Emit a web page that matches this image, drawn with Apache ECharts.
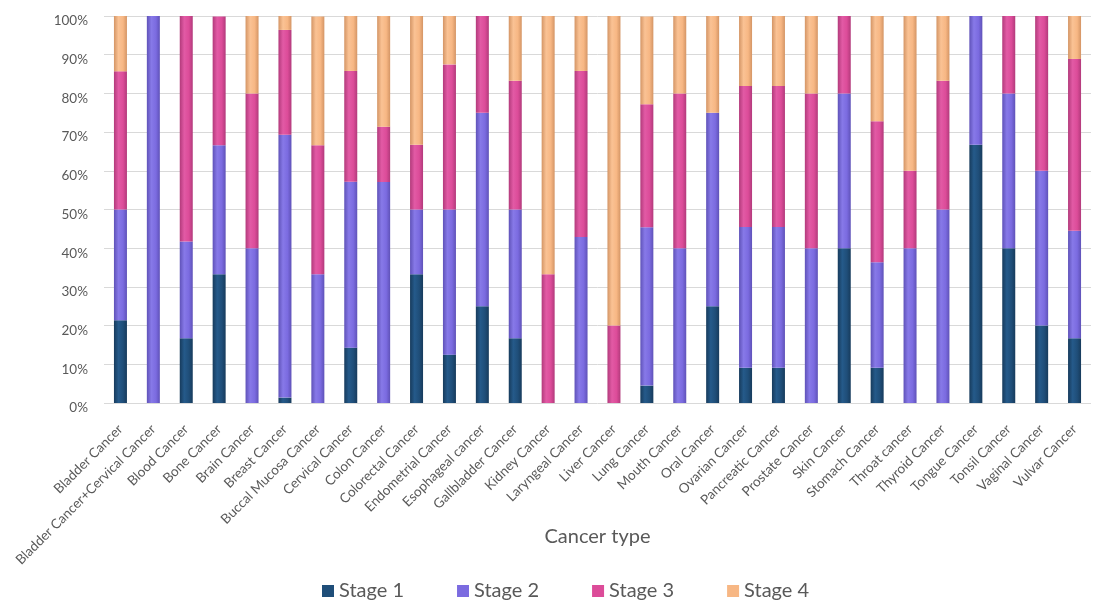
<!DOCTYPE html>
<html>
<head>
<meta charset="utf-8">
<script src="https://cdn.jsdelivr.net/npm/echarts@6/dist/echarts.min.js"></script>
<style>
  html, body { margin: 0; padding: 0; background: #fff; }
  #chart { width: 1093px; height: 605px; }
</style>
</head>
<body>
<div id="chart"></div>
<script>
// Cancer types on the x axis
const categories = [
  'Bladder Cancer', 'Bladder Cancer+Cervical Cancer', 'Blood Cancer', 'Bone Cancer',
  'Brain Cancer', 'Breast Cancer', 'Buccal Mucosa Cancer', 'Cervical Cancer',
  'Colon Cancer', 'Colorectal Cancer', 'Endometrial Cancer', 'Esophageal cancer',
  'Gallbladder Cancer', 'Kidney Cancer', 'Laryngeal Cancer', 'Liver Cancer',
  'Lung Cancer', 'Mouth Cancer', 'Oral Cancer', 'Ovarian Cancer',
  'Pancreatic Cancer', 'Prostate Cancer', 'Skin Cancer', 'Stomach Cancer',
  'Throat cancer', 'Thyroid Cancer', 'Tongue Cancer', 'Tonsil Cancer',
  'Vaginal Cancer', 'Vulvar Cancer'
];

// Share of patients (%) at each stage, per cancer type
const stage1 = [21.4, 0, 16.7, 33.3, 0, 1.4, 0, 14.3, 0, 33.3, 12.5, 25, 16.7, 0, 0, 0,
  4.5, 0, 25, 9.1, 9.1, 0, 40, 9.1, 0, 0, 66.7, 40, 20, 16.7];
const stage2 = [28.6, 100, 25, 33.3, 40, 67.9, 33.3, 42.9, 57.1, 16.7, 37.5, 50, 33.3, 0, 42.9, 0,
  40.9, 40, 50, 36.4, 36.4, 40, 40, 27.3, 40, 50, 33.3, 40, 40, 27.8];
const stage3 = [35.7, 0, 58.3, 33.3, 40, 27.1, 33.3, 28.6, 14.3, 16.7, 37.5, 25, 33.3, 33.3, 42.9, 20,
  31.8, 40, 0, 36.4, 36.4, 40, 20, 36.4, 20, 33.3, 0, 20, 40, 44.4];
const stage4 = [14.3, 0, 0, 0, 20, 3.6, 33.3, 14.3, 28.6, 33.3, 12.5, 0, 16.7, 66.7, 14.3, 80,
  22.7, 20, 25, 18.2, 18.2, 20, 0, 27.3, 40, 16.7, 0, 0, 0, 11.1];

const yTicks = [0, 10, 20, 30, 40, 50, 60, 70, 80, 90, 100];

const seriesNames = ['Stage 1', 'Stage 2', 'Stage 3', 'Stage 4'];
const seriesData = [stage1, stage2, stage3, stage4];
const baseColors = ['#1F4E79', '#7B6BE0', '#DC4C99', '#F7B784'];
const edgeColors = ['#173B5C', '#5F52B8', '#B23A7B', '#D49565'];
const midColors  = ['#255A8A', '#8779E8', '#E25AA5', '#FAC294'];

// Horizontal shading so each column reads as a cylinder
function cylinder(i) {
  return new echarts.graphic.LinearGradient(0, 0, 1, 0, [
    { offset: 0, color: edgeColors[i] },
    { offset: 0.35, color: midColors[i] },
    { offset: 0.7, color: baseColors[i] },
    { offset: 1, color: edgeColors[i] }
  ]);
}

const chart = echarts.init(document.getElementById('chart'), null, { renderer: 'canvas' });

const font = 'Lato, "Open Sans", "DejaVu Sans", sans-serif';

chart.setOption({
  animation: false,
  textStyle: { fontFamily: font },
  grid: { left: 104, right: 2, top: 16, bottom: 202, containLabel: false },
  legend: {
    data: seriesNames.map((n, i) => ({ name: n, itemStyle: { color: baseColors[i] } })),
    top: 576,
    left: 317,
    itemWidth: 12,
    itemHeight: 12,
    itemGap: 53,
    icon: 'rect',
    textStyle: { fontSize: 20, color: '#595959', fontFamily: font }
  },
  xAxis: {
    type: 'category',
    data: categories,
    name: 'Cancer type',
    nameLocation: 'middle',
    nameGap: 124,
    nameMoveOverlap: false,
    nameTextStyle: { fontSize: 20, color: '#595959', fontFamily: font },
    axisLine: { show: false },
    axisTick: { show: false },
    axisLabel: {
      interval: 0,
      rotate: 45,
      fontSize: 13.5,
      color: '#595959',
      margin: 24,
      fontFamily: font
    }
  },
  yAxis: {
    type: 'value',
    min: yTicks[0],
    max: yTicks[yTicks.length - 1],
    interval: 10,
    axisLine: { show: false },
    axisTick: { show: false },
    axisLabel: {
      formatter: '{value}%',
      fontSize: 13.5,
      color: '#595959',
      margin: 16,
      verticalAlign: 'top',
      lineHeight: 10,
      fontFamily: font
    },
    splitLine: { lineStyle: { color: '#D9D9D9', width: 1 } }
  },
  series: seriesNames.map((name, i) => ({
    name,
    type: 'bar',
    stack: 'total',
    barWidth: 13,
    data: seriesData[i],
    itemStyle: { color: cylinder(i) }
  }))
});
</script>
</body>
</html>
